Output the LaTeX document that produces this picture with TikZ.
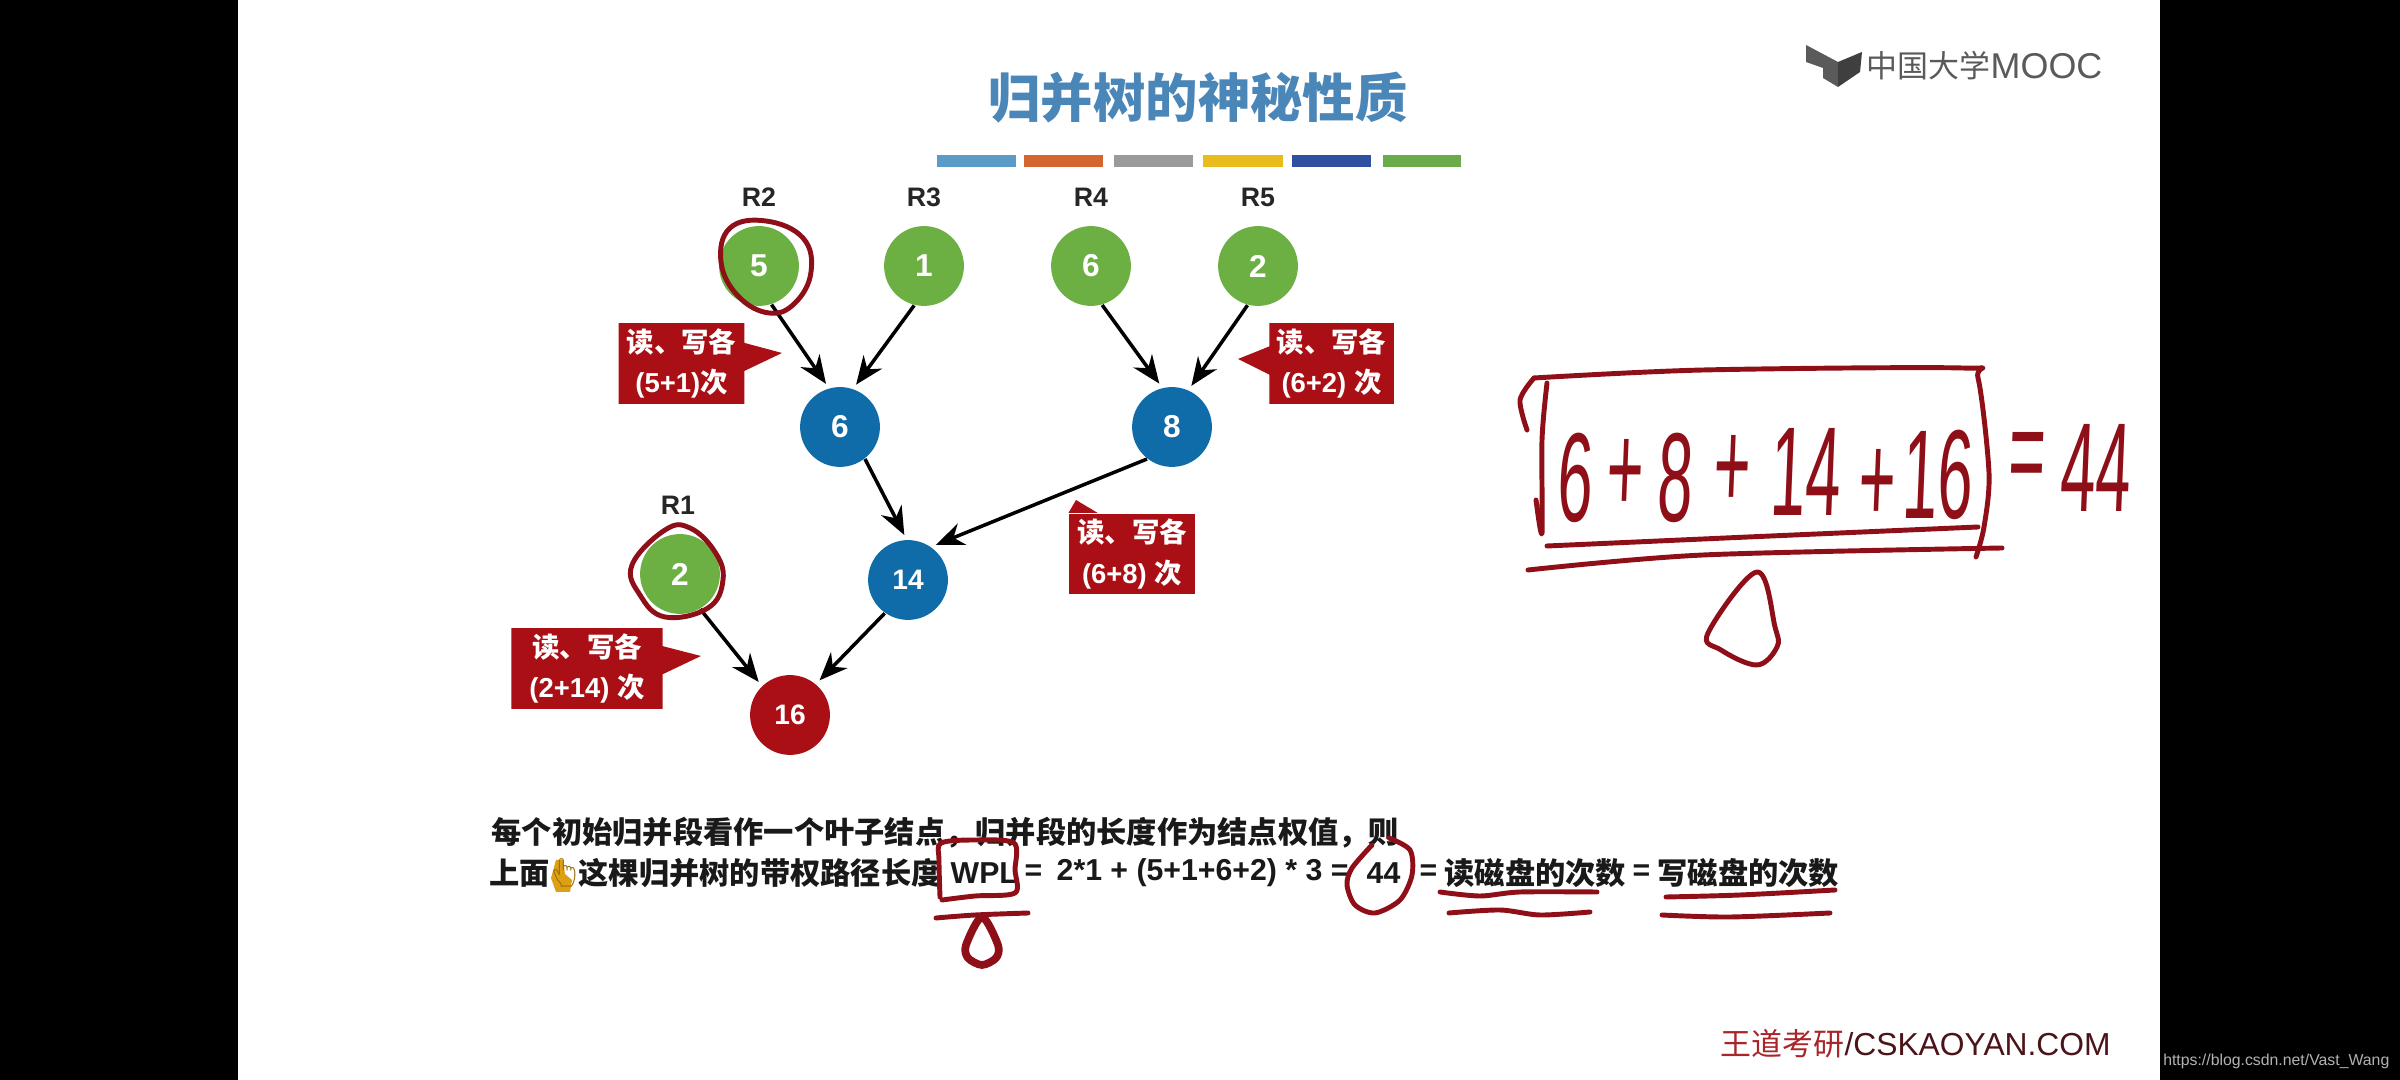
\documentclass[tikz,border=0pt]{standalone}
\usepackage{fontspec}
\setmainfont{Liberation Sans}
\newfontfamily\cjk{Noto Sans CJK SC}
\newfontfamily\emojifont{Noto Emoji}
\definecolor{leafgreen}{HTML}{6CB044}
\definecolor{treeblue}{HTML}{0F6CA8}
\definecolor{rootred}{HTML}{A90F14}
\definecolor{inkred}{HTML}{8E0F18}
\definecolor{titleblue}{HTML}{4A86B8}
\definecolor{barblue}{HTML}{5B9BC8}
\definecolor{barorange}{HTML}{D4652F}
\definecolor{bargray}{HTML}{9A9A9A}
\definecolor{baryellow}{HTML}{E8BC1C}
\definecolor{barnavy}{HTML}{2F4FA0}
\definecolor{bargreen}{HTML}{6AAB4A}
\definecolor{logogray}{HTML}{5A5A5A}
\definecolor{handgold}{HTML}{DDA015}
\definecolor{brandred}{HTML}{A8262A}
\definecolor{branddark}{HTML}{4A1418}
\usetikzlibrary{shapes.callouts,arrows.meta}
\tikzset{
  weight/.style={circle,minimum size=22.7pt,inner sep=0pt,text=white,font=\fontsize{9}{11}\selectfont\bfseries},
  leaf/.style={weight,fill=leafgreen},
  merged/.style={weight,fill=treeblue},
  rootnode/.style={weight,fill=rootred},
  small/.style={font=\fontsize{8}{10}\selectfont\bfseries},
  runlabel/.style={font=\fontsize{7.6}{9}\selectfont\bfseries,text=black!85},
  edge/.style={draw=black,line width=1pt,shorten >=1.4pt,-{Stealth[length=8pt,width=6.5pt]}},
  tagbox/.style={fill=rootred,text=white,inner sep=0pt,align=center,
    minimum height=23pt,font=\fontsize{7.8}{11.6}\selectfont\bfseries},
  tag/.style={rectangle callout,tagbox,callout pointer width=8pt},
  body/.style={anchor=west,inner sep=0pt,text=black!90,font=\fontsize{8.6}{10}\selectfont\bfseries},
  ink/.style={draw=inkred,line width=1.4pt,line cap=round,line join=round},
  handtext/.style={text=inkred,inner sep=0pt,xscale=0.5,xslant=0.08,transform shape,
    font=\fontsize{36}{40}\selectfont}
}
\begin{document}
\begin{tikzpicture}[x=0.01cm,y=-0.01cm]
\useasboundingbox (0,0) rectangle (2400,1080);
\fill[black] (0,0) rectangle (2400,1080);
\fill[white] (238,0) rectangle (2160,1080);
% title and colour bars
\node[text=titleblue,font=\cjk\fontsize{14.9}{16}\selectfont\bfseries] (title) at (1198,98) {归并树的神秘性质};
\foreach \a/\b/\c in {937/1016/barblue,1024/1103/barorange,1114/1193/bargray,1203/1283/baryellow,1292/1371/barnavy,1383/1461/bargreen}
  \fill[\c] (\a,155) rectangle (\b,167);
% logo
\fill[logogray] (1806,45) -- (1838,62) -- (1838,87) -- (1823,78) -- (1823,68) -- (1806,62) -- cycle;
\fill[logogray!70!black] (1838,62) -- (1862,52) -- (1860,72) -- (1838,87) -- cycle;
\node[anchor=west,inner sep=0pt,text=logogray,font=\cjk\fontsize{8.8}{10}\selectfont] (logo) at (1866,66) {中国大学};
\node[anchor=west,inner sep=0pt,text=logogray,font=\fontsize{10.2}{12}\selectfont] (mooc) at (1990,66) {MOOC};
% tree
\node[leaf] (r2) at (759,266) {5};
\node[leaf] (r3) at (924,266) {1};
\node[leaf] (r4) at (1091,266) {6};
\node[leaf] (r5) at (1258,266) {2};
\node[leaf] (r1) at (680,574) {2};
\node[merged] (m6) at (840,427) {6};
\node[merged] (m8) at (1172,427) {8};
\node[merged,small] (m14) at (908,580) {14};
\node[rootnode,small] (m16) at (790,715) {16};
\foreach \x/\y/\t in {678/505/R1,759/197/R2,924/197/R3,1091/197/R4,1258/197/R5}
  \node[runlabel] (label\t) at (\x,\y) {\t};
\draw[edge] (r2.-72) -- (m6.106);
\draw[edge] (r3.-104) -- (m6.71);
\draw[edge] (r4.-74) -- (m8.104);
\draw[edge] (r5.-105) -- (m8.66);
\draw[edge] (m6.-52) -- (m14.92);
\draw[edge] (m8.-128) -- (m14.55);
\draw[edge] (m14.-125) -- (m16.50);
\draw[edge] (r1.-60) -- (m16.134);
% read and write tags
\node[tag,minimum width=35.7pt,callout absolute pointer={(782,353)}] (tag1) at (681.5,363.5) {{\cjk 读、写各}\\(5+1){\cjk 次}};
\node[tag,minimum width=35.4pt,callout absolute pointer={(1238,359)}] (tag2) at (1331.5,363.5) {{\cjk 读、写各}\\(6+2) {\cjk 次}};
\node[tagbox,minimum width=35.7pt] (tag3) at (1132,554) {{\cjk 读、写各}\\(6+8) {\cjk 次}};
\fill[rootred] (1076,500) -- (tag3.north west) -- ++(29,0) -- cycle;
\node[tag,minimum width=43pt,callout absolute pointer={(701,656)}] (tag4) at (587,668.5) {{\cjk 读、写各}\\(2+14) {\cjk 次}};
% sentence
\node[body] (line1) at (491,833) {\cjk 每个初始归并段看作一个叶子结点^^^^ff0c归并段的长度作为结点权值^^^^ff0c则};
\node[body] (line2a) at (489,873) {\cjk 上面};
\fill[handgold] (556,860) -- (563,860) -- (565,874) -- (572,880) -- (570,892) -- (556,892) -- (551,878) -- cycle;
\node[body,text=handgold!70!black,font=\fontsize{8}{10}\selectfont\bfseries] (hand) at (546,873) {\emojifont 👆};
\node[body] (line2b) at (578,873) {\cjk 这棵归并树的带权路径长度};
\node[body] (wpl) at (950,873) {WPL};
\node[body] (eq1) at (1024,873) {=};
\node[body] (sum) at (1056,873) {2*1 + (5+1+6+2) * 3 =};
\node[body] (val) at (1366,873) {44};
\node[body] (eq2) at (1419,873) {=};
\node[body] (rd) at (1444,873) {\cjk 读磁盘的次数};
\node[body] (eq3) at (1632,873) {=};
\node[body] (wr) at (1657,873) {\cjk 写磁盘的次数};
\node[anchor=west,inner sep=0pt,text=branddark,font=\fontsize{9.04}{11}\selectfont] (brand) at (1720,1044) {{\cjk\fontsize{8.8}{11}\selectfont\color{brandred}王道考研}/CSKAOYAN.COM};
\node[anchor=east,inner sep=0pt,text=white!70!black,font=\fontsize{4.5}{6}\selectfont] (mark) at (2390,1061) {https://blog.csdn.net/Vast\_Wang};
% pen marks on the tree
\draw[ink] plot[smooth cycle,tension=0.7] coordinates {(730,228) (766,221) (803,238) (811,272) (795,303) (769,313) (738,296) (721,262)};
\draw[ink] plot[smooth cycle,tension=0.7] coordinates {(665,530) (690,528) (715,552) (723,580) (708,608) (665,617) (640,595) (632,565)};
% pen marks on the sentence
\draw[ink] plot[smooth] coordinates {(940,897) (939,860) (941,843) (975,840) (1014,843) (1015,870) (1015,893) (975,896) (942,900)};
\draw[ink] plot[smooth] coordinates {(936,918) (975,915) (1028,913)};
\draw[ink,line width=2.2pt] plot[smooth cycle] coordinates {(982,917) (966,945) (968,958) (982,965) (996,958) (998,945)};
\draw[ink] plot[smooth] coordinates {(1389,838) (1410,850) (1412,875) (1400,900) (1375,913) (1355,905) (1347,885) (1352,868) (1372,845)};
\draw[ink] plot[smooth] coordinates {(1440,892) (1480,896) (1520,892) (1597,892)};
\draw[ink] plot[smooth] coordinates {(1449,913) (1500,910) (1540,915) (1590,912)};
\draw[ink] plot[smooth] coordinates {(1666,897) (1740,895) (1835,890)};
\draw[ink] plot[smooth] coordinates {(1662,915) (1730,917) (1830,913)};
% handwritten sum
\foreach \x/\y/\t in {1576/478/6,1625/476/+,1676/478/8,1732/472/+,1806/472/14,1877/486/+,1938/475/16,2027/463/=,2096/468/44}
  \node[handtext] at (\x,\y) {\t};
\draw[ink] plot[smooth] coordinates {(1527,430) (1520,400) (1534,378)};
\draw[ink] plot[smooth] coordinates {(1534,378) (1703,370) (1962,368) (1978,378) (1989,473) (1984,527) (1976,557)};
\draw[ink] plot[smooth] coordinates {(1547,383) (1542,440) (1542,533) (1536,500)};
\draw[ink] plot[smooth] coordinates {(1547,546) (1748,537) (1978,527)};
\draw[ink] plot[smooth] coordinates {(1528,570) (1703,555) (2002,548)};
\draw[ink] plot[smooth cycle,tension=0.6] coordinates {(1757,572) (1708,633) (1721,650) (1757,665) (1777,647) (1775,627)};
\end{tikzpicture}
\end{document}
